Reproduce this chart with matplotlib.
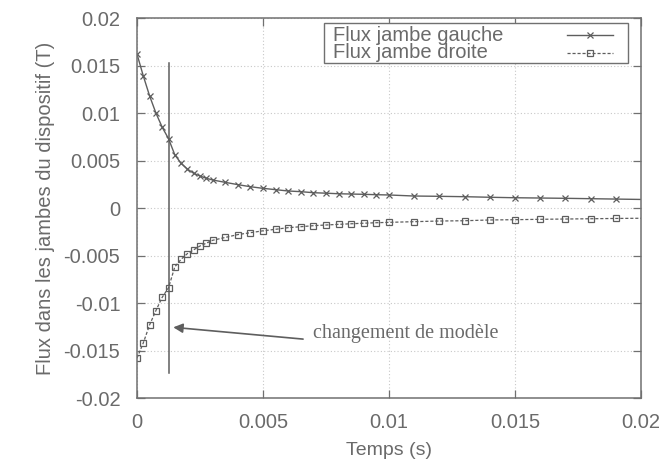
import matplotlib
matplotlib.use("Agg")
import matplotlib.pyplot as plt
from matplotlib.patches import Rectangle
from matplotlib.lines import Line2D
import numpy as np

plt.rcParams['font.family'] = ['Liberation Sans', 'DejaVu Sans']

t = [0, 0.00025, 0.0005, 0.00075, 0.001, 0.00125, 0.0015, 0.00175, 0.002, 0.00225,
     0.0025, 0.00275, 0.003, 0.0035, 0.004, 0.0045, 0.005, 0.0055, 0.006, 0.0065,
     0.007, 0.0075, 0.008, 0.0085, 0.009, 0.0095, 0.01, 0.011, 0.012, 0.013,
     0.014, 0.015, 0.016, 0.017, 0.018, 0.019, 0.02]
flux_gauche = [0.0162, 0.0139, 0.0118, 0.0100, 0.0085, 0.0073, 0.0056, 0.0047, 0.0041, 0.00365,
               0.00337, 0.00313, 0.00295, 0.0027, 0.00246, 0.00224, 0.00207, 0.00193, 0.00179, 0.00172,
               0.00161, 0.00156, 0.0015, 0.00147, 0.00144, 0.0014, 0.00137, 0.00126, 0.00123, 0.00119,
               0.00113, 0.00108, 0.00105, 0.00102, 0.00098, 0.00094, 0.0009]
flux_droite = [-0.0158, -0.0142, -0.0123, -0.0108, -0.0094, -0.0084, -0.0062, -0.0054, -0.0048, -0.0044,
               -0.0040, -0.0037, -0.0034, -0.0031, -0.0028, -0.0026, -0.0024, -0.00224, -0.00207, -0.00197,
               -0.00186, -0.00179, -0.00172, -0.00166, -0.0016, -0.00155, -0.00151, -0.00144, -0.00137, -0.00134,
               -0.00126, -0.00123, -0.00119, -0.00116, -0.00113, -0.0011, -0.00108]
series_labels = ['Flux jambe gauche', 'Flux jambe droite']
t_change = 0.00128
xticks = [0, 0.005, 0.01, 0.015, 0.02]
xticklabels = ['0', '0.005', '0.01', '0.015', '0.02']
yticks = [-0.02, -0.015, -0.01, -0.005, 0, 0.005, 0.01, 0.015, 0.02]
yticklabels = ['-0.02', '-0.015', '-0.01', '-0.005', '0', '0.005', '0.01', '0.015', '0.02']

txt = '#6a6a6a'
axc = '#707070'
linec = '#5e5e5e'
fs = 14.5

fig = plt.figure(figsize=(6.61, 4.69), dpi=100)
ax = fig.add_axes([137/661, 1-398/469, (641-137)/661, (398-18)/469])

n = len(t)
styles = [dict(color=linec, lw=1.0, ls='-', marker='x', ms=5, mew=0.9),
          dict(color=linec, lw=0.9, ls=(0, (2.5, 1.5)), marker='s', ms=4.5, mew=0.9, mfc='none')]
ax.plot(t, flux_gauche, markevery=list(range(n-1)), **styles[0])
ax.plot(t, flux_droite, markevery=list(range(n-1)), **styles[1])

ax.plot([t_change, t_change], [0.0153, -0.0174], color=linec, lw=1.1)
ax.annotate('', xy=(0.00144, -0.01256), xytext=(0.00659, -0.0138),
            arrowprops=dict(arrowstyle='-|>', color=linec, lw=1.2, mutation_scale=14,
                            shrinkA=0, shrinkB=0))
ax.text(0.00698, -0.01316, 'changement de modèle', fontsize=fs, color=txt,
        family=['Liberation Serif', 'DejaVu Serif'], ha='left', va='center')

ax.set_xlim(0, 0.02)
ax.set_ylim(-0.02, 0.02)
ax.set_xticks(xticks)
ax.set_xticklabels(xticklabels)
ax.set_yticks(yticks)
ax.set_yticklabels(yticklabels)
ax.tick_params(direction='in', length=6, width=0.9, colors=axc, labelcolor=txt,
               labelsize=fs, top=True, right=True)
ax.tick_params(axis='y', pad=12)
ax.tick_params(axis='x', pad=11)
for s in ax.spines.values():
    s.set_color(axc)
    s.set_linewidth(1.1)
ax.grid(True, color='#c8c8c8', ls=(0, (1, 2)), lw=0.8)

ax.set_xlabel('Temps (s)', fontsize=14, color=txt, labelpad=7)
ax.set_ylabel('Flux dans les jambes du dispositif (T)', fontsize=fs, color=txt, labelpad=6)

# gnuplot-style key: label on the left, sample on the right
box = Rectangle((0.371, 0.8816), 0.974 - 0.371, 0.987 - 0.8816, transform=ax.transAxes,
                facecolor='white', edgecolor=axc, lw=1.0, zorder=5)
ax.add_patch(box)
rows_y = [0.955, 0.9079]
for lab, st, yy in zip(series_labels, styles, rows_y):
    ax.text(0.388, yy, lab, transform=ax.transAxes, fontsize=fs, color=txt,
            ha='left', va='center', zorder=6)
    st_line = {k: v for k, v in st.items() if k not in ('marker', 'ms', 'mew', 'mfc')}
    ax.add_line(Line2D([0.853, 0.944], [yy, yy], transform=ax.transAxes, zorder=6, **st_line))
    ax.add_line(Line2D([0.899], [yy], transform=ax.transAxes, zorder=7, ls='none',
                       color=st['color'], marker=st['marker'], ms=st['ms'], mew=st['mew'],
                       mfc=st.get('mfc', st['color'])))

fig.savefig('out.png', dpi=100)
